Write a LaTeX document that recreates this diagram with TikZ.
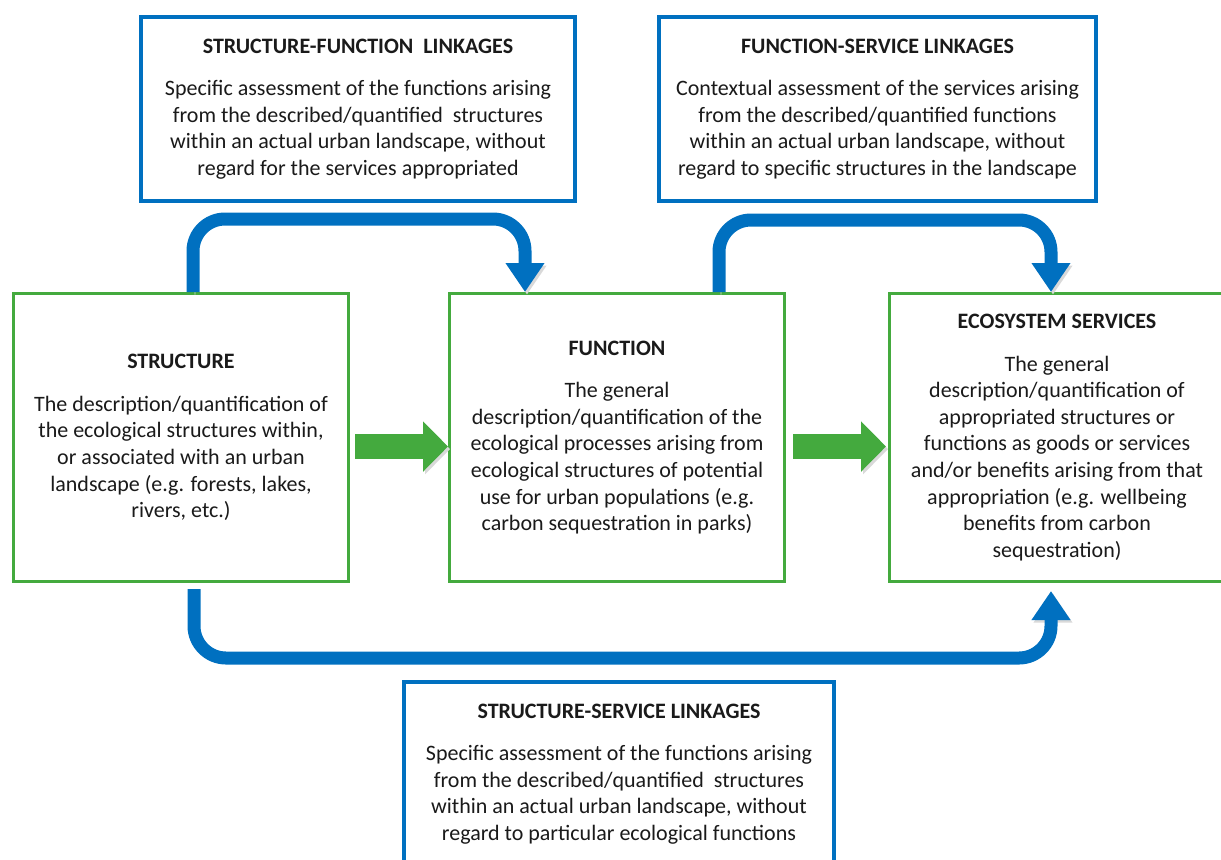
\documentclass[tikz,border=0pt]{standalone}
\usepackage{fontspec}
\setmainfont{Carlito}
\usetikzlibrary{arrows.meta,positioning,calc}
\definecolor{linkblue}{RGB}{0,112,192}
\definecolor{boxgreen}{RGB}{68,170,62}
\definecolor{txt}{RGB}{26,26,26}

\begin{document}
\begin{tikzpicture}[x=0.5pt, y=-0.5pt, node distance=49pt, text=txt]
\tikzstyle{every node}=[font=\fontsize{11}{13.3}\selectfont, align=center, inner sep=0pt]
\tikzstyle{green box}=[draw=boxgreen, line width=1.5pt, fill=white, minimum width=167.5pt, minimum height=144pt]
\tikzstyle{blue box}=[draw=linkblue, line width=1.8pt, fill=white, minimum height=92.2pt]
\tikzstyle{link}=[draw=linkblue, line width=6.5pt, rounded corners=16pt, -{Triangle[length=14.5pt, width=18.5pt]},
  preaction={draw=black!15, transform canvas={shift={(1pt,-1.3pt)}}}]
\tikzstyle{flow}=[draw=boxgreen, line width=12.5pt, -{Triangle[length=12.5pt, width=24.5pt]},
  preaction={draw=black!15, transform canvas={shift={(1pt,-1.3pt)}}}]
\useasboundingbox (0,0) rectangle (1221,859);

% the three main boxes
\node[green box]    (S) at (181,437.5)  {\textbf{STRUCTURE}\\[8pt]
  The description/quantification of\\ the ecological structures within,\\
  or associated with an urban\\ landscape (e.g. forests, lakes,\\ rivers, etc.)};
\node[green box]    (F) [right=of S]    {\textbf{FUNCTION}\\[8pt]
  The general\\ description/quantification of the\\ ecological processes arising from\\
  ecological structures of potential\\ use for urban populations (e.g.\\ carbon sequestration in parks)};
\node[green box]    (E) [right=51pt of F] {\textbf{ECOSYSTEM SERVICES}\\[8pt]
  The general\\ description/quantification of\\ appropriated structures or\\
  functions as goods or services\\ and/or benefits arising from that\\
  appropriation (e.g. wellbeing\\ benefits from carbon\\ sequestration)};

% the linkage boxes
\node[blue box, minimum width=217.2pt] (SF) at (358,109) {\textbf{STRUCTURE-FUNCTION~ LINKAGES}\\[8pt]
  Specific assessment of the functions arising\\ from the described/quantified~ structures\\
  within an actual urban landscape, without\\ regard for the services appropriated};
\node[blue box, minimum width=218.7pt] (FS) at (877.5,109) {\textbf{FUNCTION-SERVICE LINKAGES}\\[8pt]
  Contextual assessment of the services arising\\ from the described/quantified functions\\
  within an actual urban landscape, without\\ regard to specific structures in the landscape};
\node[blue box, minimum width=215.2pt] (SS) at (619,774) {\textbf{STRUCTURE-SERVICE LINKAGES}\\[8pt]
  Specific assessment of the functions arising\\ from the described/quantified~ structures\\
  within an actual urban landscape, without\\ regard to particular ecological functions};

\draw[flow] ($(S.east)+(5,9)$) -- ($(F.west)+(0,9)$);
\draw[flow] ($(F.east)+(7,9)$) -- ($(E.west)+(-2,9)$);

\draw[link] ($(S.north)+(12,0)$) -- ++(0,-73) -| ($(F.north)+(-92,0)$);
\draw[link] ($(F.north)+(102,0)$) -- ++(0,-72) -| ($(E.north)+(-6,0)$);
\draw[link] ($(S.south)+(13,6)$) -- ++(0,69) -| ($(E.south)+(-6,8)$);
\end{tikzpicture}
\end{document}
